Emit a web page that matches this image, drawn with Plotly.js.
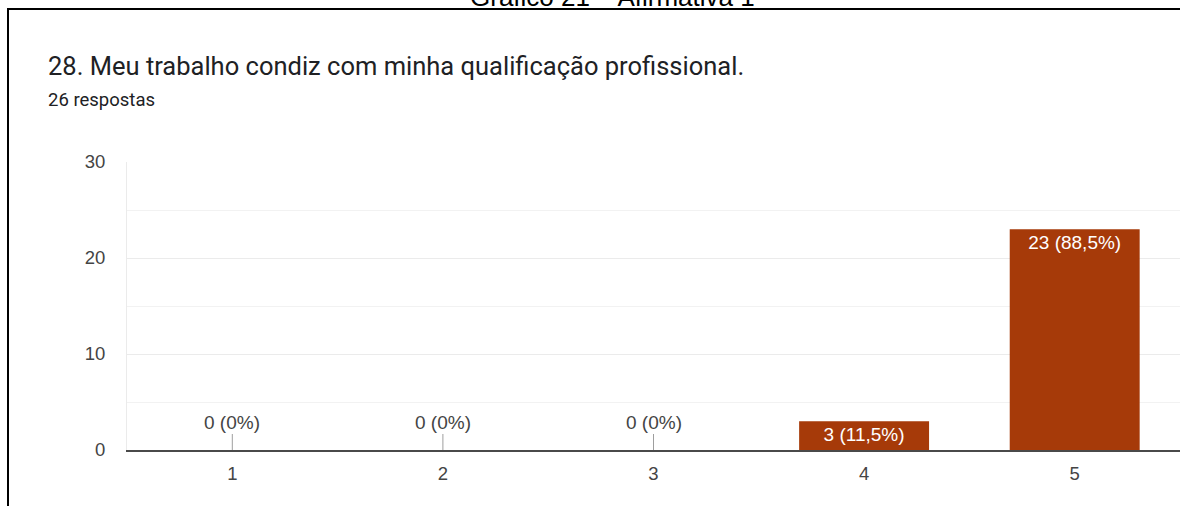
<!DOCTYPE html>
<html>
<head>
<meta charset="utf-8">
<script src="https://cdn.plot.ly/plotly-3.0.1.min.js"></script>
<style>
html,body{margin:0;padding:0;background:#fff;}
#chart{width:1180px;height:506px;}
</style>
</head>
<body>
<div id="chart"></div>
<script>
// ---- data ----
const categories = ['1', '2', '3', '4', '5'];
const counts = [0, 0, 0, 3, 23];
const percents = ['0%', '0%', '0%', '11,5%', '88,5%'];
const yTicks = [0, 10, 20, 30];
const chartTitle = '28. Meu trabalho condiz com minha qualificação profissional.';
const subtitle = '26 respostas';
const caption = 'Gráfico 21 – Afirmativa 1';

// ---- derived labels ----
const labels = counts.map((c, i) => c + ' (' + percents[i] + ')');
const barText = counts.map((c, i) => c > 0 ? labels[i] : '');

const W = 1180, H = 506;
const L = 127, R = 0, T = 162, B = 56;
const pw = W - L - R, ph = H - T - B;
const px = x => (x - L) / pw;          // pixel x -> paper
const py = y => (H - B - y) / ph;      // pixel y -> paper

const labelFont = 'Liberation Sans, Arial, sans-serif';

const annotations = [];
counts.forEach((c, i) => {
  if (c === 0) {
    annotations.push({
      x: i, y: c, xref: 'x', yref: 'y',
      text: labels[i], showarrow: true, arrowhead: 0, arrowwidth: 1,
      arrowcolor: '#9e9e9e', ax: 0, ay: -28, standoff: 0,
      font: {family: labelFont, size: 19, color: '#444'}
    });
  }
});
annotations.push({
  xref: 'paper', yref: 'paper', x: px(46), y: py(100),
  xanchor: 'left', yanchor: 'middle', showarrow: false,
  text: subtitle,
  font: {family: 'Roboto, sans-serif', size: 18.5, color: '#202124'}
});
annotations.push({
  xref: 'paper', yref: 'paper', x: px(612), y: py(-3),
  xanchor: 'center', yanchor: 'middle', showarrow: false,
  text: caption,
  font: {family: labelFont, size: 26, color: '#000'}
});

const trace = {
  type: 'bar',
  x: categories,
  y: counts,
  text: barText,
  textposition: 'inside',
  insidetextanchor: 'end',
  textangle: 0,
  textfont: {family: labelFont, size: 19, color: '#fff'},
  constraintext: 'none',
  marker: {color: '#a63a09'},
  hoverinfo: 'none',
  cliponaxis: false
};

const layout = {
  width: W, height: H,
  margin: {l: L, r: R, t: T, b: B, pad: 0},
  paper_bgcolor: '#fff', plot_bgcolor: '#fff',
  showlegend: false,
  bargap: 0.383,
  title: {
    text: chartTitle,
    xref: 'container', yref: 'container',
    x: 48 / W, xanchor: 'left',
    y: 1 - 65.6 / H, yanchor: 'middle',
    font: {family: 'Roboto, sans-serif', size: 25.5, color: '#202124'}
  },
  xaxis: {
    type: 'category',
    range: [-0.5, 4.5],
    showgrid: false,
    showline: true, linecolor: '#4a4a4a', linewidth: 2,
    ticks: '', ticklabelstandoff: 6,
    tickfont: {family: labelFont, size: 18.5, color: '#444'},
    zeroline: false, fixedrange: true
  },
  yaxis: {
    range: [0, 30],
    tickvals: yTicks,
    showgrid: true, gridcolor: '#ebebeb', gridwidth: 1,
    minor: {dtick: 5, showgrid: true, gridcolor: '#f2f2f2', gridwidth: 1},
    showline: true, linecolor: '#ebebeb', linewidth: 1,
    zeroline: false,
    ticks: '', ticklabelstandoff: 17,
    tickfont: {family: labelFont, size: 18.5, color: '#444'},
    fixedrange: true
  },
  annotations: annotations,
  shapes: [
    {type: 'line', xref: 'paper', yref: 'paper', x0: px(8), x1: px(8), y0: py(9), y1: py(520),
     line: {color: '#000', width: 2}},
    {type: 'line', xref: 'paper', yref: 'paper', x0: px(7), x1: px(1200), y0: py(9), y1: py(9),
     line: {color: '#000', width: 2}}
  ]
};

Plotly.newPlot('chart', [trace], layout, {displayModeBar: false, staticPlot: true});
</script>
</body>
</html>
